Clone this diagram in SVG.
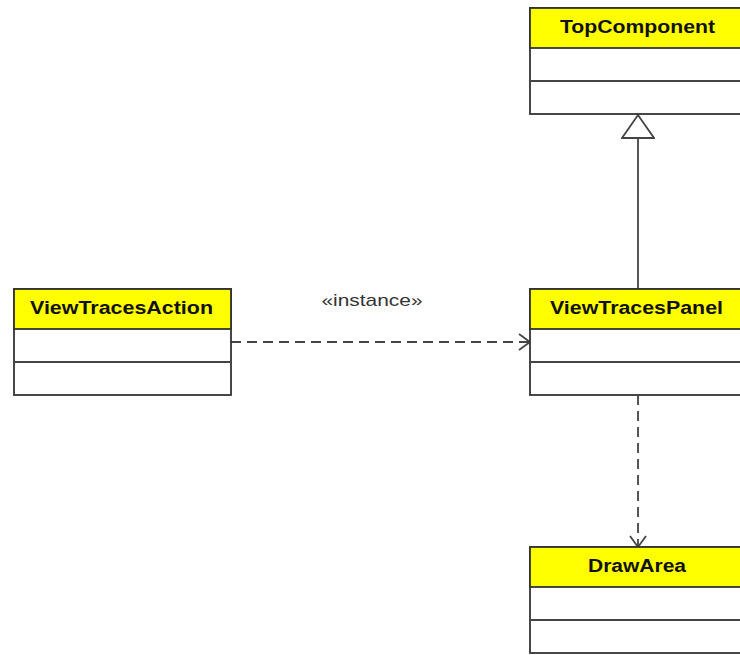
<svg xmlns="http://www.w3.org/2000/svg" width="740" height="655" viewBox="0 0 740 655">
  <style>
    .box { fill: #ffffff; stroke: #333333; stroke-width: 1.8; }
    .head { fill: #ffff00; stroke: #333333; stroke-width: 1.8; }
    .name { font-family: "Liberation Sans", Arial, sans-serif; font-size: 18px; font-weight: bold; fill: #111111; text-anchor: middle; }
    .edge { fill: none; stroke: #444444; stroke-width: 1.8; }
    .dash { stroke-dasharray: 10 6; }
    .label { font-family: "Liberation Sans", Arial, sans-serif; font-size: 17px; fill: #333333; text-anchor: middle; }
  </style>
  <defs>
    <marker id="open" viewBox="0 0 14 18" refX="12" refY="9" markerWidth="14" markerHeight="18" markerUnits="userSpaceOnUse" orient="auto">
      <path d="M1,1 L12,9 L1,17" fill="none" stroke="#444444" stroke-width="1.8"/>
    </marker>
    <marker id="gen" viewBox="0 0 26 34" refX="24" refY="17" markerWidth="26" markerHeight="34" markerUnits="userSpaceOnUse" orient="auto">
      <path d="M1,1 L24,17 L1,33 Z" fill="#ffffff" stroke="#444444" stroke-width="1.8"/>
    </marker>
  </defs>

  <g id="connectors">
    <line class="edge" x1="638" y1="289" x2="638" y2="115" marker-end="url(#gen)"/>
    <line class="edge dash" x1="231" y1="342" x2="530" y2="342" marker-end="url(#open)"/>
    <text class="label" x="372" y="306" textLength="101" lengthAdjust="spacingAndGlyphs">«instance»</text>
    <line class="edge dash" x1="638" y1="395" x2="638" y2="547" marker-end="url(#open)"/>
  </g>

  <g id="TopComponent">
    <rect class="box" x="530" y="8" width="216" height="106"/>
    <rect class="head" x="530" y="8" width="216" height="40"/>
    <line class="edge" x1="530" y1="81" x2="746" y2="81"/>
    <text class="name" x="637.5" y="33" textLength="155" lengthAdjust="spacingAndGlyphs">TopComponent</text>
  </g>

  <g id="ViewTracesAction">
    <rect class="box" x="14" y="289" width="217" height="106"/>
    <rect class="head" x="14" y="289" width="217" height="40"/>
    <line class="edge" x1="14" y1="362" x2="231" y2="362"/>
    <text class="name" x="121.5" y="314" textLength="183" lengthAdjust="spacingAndGlyphs">ViewTracesAction</text>
  </g>

  <g id="ViewTracesPanel">
    <rect class="box" x="530" y="289" width="216" height="106"/>
    <rect class="head" x="530" y="289" width="216" height="40"/>
    <line class="edge" x1="530" y1="362" x2="746" y2="362"/>
    <text class="name" x="636.5" y="314" textLength="173" lengthAdjust="spacingAndGlyphs">ViewTracesPanel</text>
  </g>

  <g id="DrawArea">
    <rect class="box" x="530" y="547" width="216" height="106"/>
    <rect class="head" x="530" y="547" width="216" height="40"/>
    <line class="edge" x1="530" y1="620" x2="746" y2="620"/>
    <text class="name" x="637" y="572" textLength="98" lengthAdjust="spacingAndGlyphs">DrawArea</text>
  </g>
</svg>
